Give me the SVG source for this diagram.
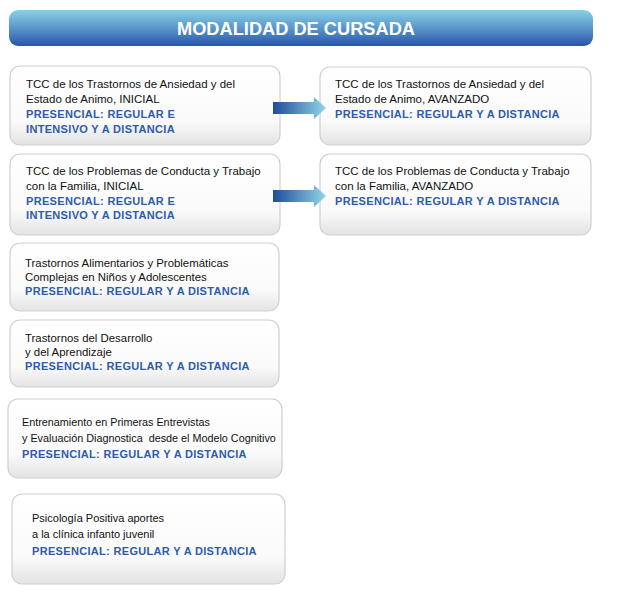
<svg xmlns="http://www.w3.org/2000/svg" width="641" height="601" viewBox="0 0 641 601">
<defs>
<linearGradient id="hdr" x1="0" y1="0" x2="0" y2="1">
<stop offset="0" stop-color="#86D2E4"/>
<stop offset="0.5" stop-color="#5B96CB"/>
<stop offset="1" stop-color="#2855A6"/>
</linearGradient>
<linearGradient id="box" x1="0" y1="0" x2="0" y2="1">
<stop offset="0" stop-color="#ffffff"/>
<stop offset="0.7" stop-color="#fafafa"/>
<stop offset="1" stop-color="#e3e3e3"/>
</linearGradient>
<linearGradient id="arr" x1="0" y1="0" x2="1" y2="0">
<stop offset="0" stop-color="#1F4C9C"/>
<stop offset="1" stop-color="#92D6E6"/>
</linearGradient>
</defs>
<style>
.box{fill:url(#box);stroke:#cfcfcf;stroke-width:1.2}
.t{font-family:"Liberation Sans",Arial,sans-serif;font-size:11px;fill:#111}
.L{font-size:11.5px}
.M{font-size:11.4px}
.S{font-size:10.8px}
.b{font-family:"Liberation Sans",Arial,sans-serif;font-size:11px;font-weight:bold;fill:#2E5BAE;letter-spacing:0.32px}
.h{font-family:"Liberation Sans",Arial,sans-serif;font-size:19px;font-weight:bold;fill:#fff}
</style>
<rect width="641" height="601" fill="#fff"/>
<g id="header">
<rect x="9" y="10" width="584" height="36" rx="9" fill="url(#hdr)"/>
<text class="h" x="296" y="35" text-anchor="middle" textLength="238" lengthAdjust="spacingAndGlyphs">MODALIDAD DE CURSADA</text>
</g>
<g id="n1">
<rect class="box" x="10" y="66" width="270" height="79" rx="10"/>
<text class="t L" x="26" y="88">TCC de los Trastornos de Ansiedad y del</text>
<text class="t L" x="26" y="103">Estado de Animo, INICIAL</text>
<text class="b" x="26" y="118">PRESENCIAL: REGULAR E</text>
<text class="b" x="26" y="133">INTENSIVO Y A DISTANCIA</text>
</g>
<g id="n2">
<rect class="box" x="10" y="154" width="270" height="81" rx="10"/>
<text class="t L" x="26" y="175">TCC de los Problemas de Conducta y Trabajo</text>
<text class="t L" x="26" y="190">con la Familia, INICIAL</text>
<text class="b" x="26" y="205">PRESENCIAL: REGULAR E</text>
<text class="b" x="26" y="219">INTENSIVO Y A DISTANCIA</text>
</g>
<g id="r1">
<rect class="box" x="320" y="67" width="271" height="78" rx="10"/>
<text class="t L" x="335" y="88">TCC de los Trastornos de Ansiedad y del</text>
<text class="t L" x="335" y="103">Estado de Animo, AVANZADO</text>
<text class="b" x="335" y="118">PRESENCIAL: REGULAR Y A DISTANCIA</text>
</g>
<g id="r2">
<rect class="box" x="320" y="154" width="271" height="81" rx="10"/>
<text class="t L" x="335" y="175">TCC de los Problemas de Conducta y Trabajo</text>
<text class="t L" x="335" y="190">con la Familia, AVANZADO</text>
<text class="b" x="335" y="205">PRESENCIAL: REGULAR Y A DISTANCIA</text>
</g>
<g id="n3">
<rect class="box" x="10" y="243" width="269" height="68" rx="10"/>
<text class="t M" x="25" y="267">Trastornos Alimentarios y Problemáticas</text>
<text class="t M" x="25" y="281">Complejas en Niños y Adolescentes</text>
<text class="b" x="25" y="295">PRESENCIAL: REGULAR Y A DISTANCIA</text>
</g>
<g id="n4">
<rect class="box" x="10" y="320" width="269" height="67" rx="10"/>
<text class="t M" x="25" y="342">Trastornos del Desarrollo</text>
<text class="t M" x="25" y="356">y del Aprendizaje</text>
<text class="b" x="25" y="370">PRESENCIAL: REGULAR Y A DISTANCIA</text>
</g>
<g id="n5">
<rect class="box" x="8" y="399" width="274" height="79" rx="10"/>
<text class="t S" x="22" y="426">Entrenamiento en Primeras Entrevistas</text>
<text class="t S" x="22" y="442" xml:space="preserve">y Evaluación Diagnostica  desde el Modelo Cognitivo</text>
<text class="b" x="22" y="458">PRESENCIAL: REGULAR Y A DISTANCIA</text>
</g>
<g id="n6">
<rect class="box" x="12" y="494" width="273" height="90" rx="10"/>
<text class="t" x="32" y="522">Psicología Positiva aportes</text>
<text class="t" x="32" y="538">a la clínica infanto juvenil</text>
<text class="b" x="32" y="555">PRESENCIAL: REGULAR Y A DISTANCIA</text>
</g>
<g id="connectors">
<path d="M273,102 H314 V97 L326,108 L314,119 V114 H273 Z" fill="url(#arr)"/>
<path d="M273,190 H314 V185 L326,196 L314,207 V202 H273 Z" fill="url(#arr)"/>
</g>
</svg>
